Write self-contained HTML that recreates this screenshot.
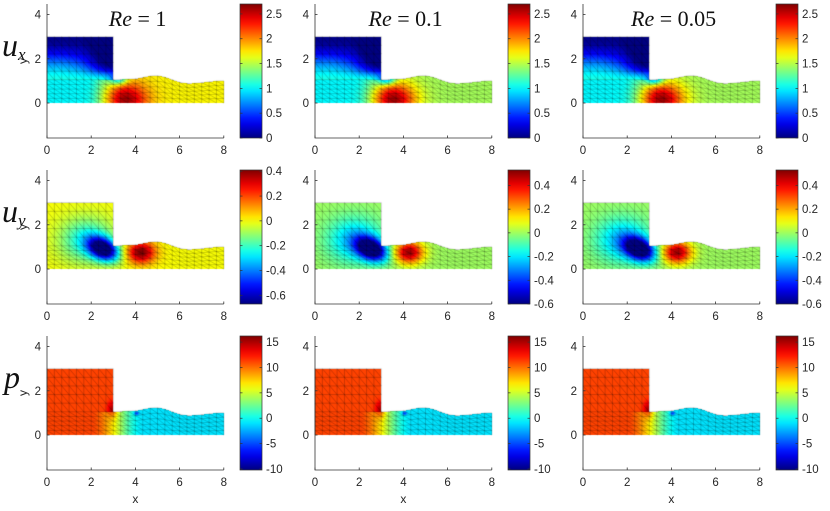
<!DOCTYPE html>
<html><head><meta charset="utf-8">
<style>
body{margin:0;background:#fff;}
#wrap{position:relative;width:830px;height:511px;overflow:hidden;font-family:"Liberation Sans",sans-serif;}
canvas,svg{position:absolute;left:0;top:0;}
</style></head>
<body>
<div id="wrap">
<canvas id="cv" width="830" height="511"></canvas>
<svg id="sv" width="830" height="511"></svg>
</div>
<script>
// ---- data ----
const colTitles = ["1", "0.1", "0.05"];
const rowNames = ["x", "y", "p"];
const xTicks = [0, 2, 4, 6, 8];
const yTicks = [0, 2, 4];
const cbRanges = [
  [[0, 2.7], [0, 2.7], [0, 2.7]],
  [[-0.67, 0.41], [-0.6, 0.53], [-0.6, 0.53]],
  [[-10.2, 16.2], [-10.2, 16.2], [-10.2, 16.2]]
];
const cbTicks = [
  ["0", "0.5", "1", "1.5", "2", "2.5"],
  ["-0.6", "-0.4", "-0.2", "0", "0.2", "0.4"],
  ["-10", "-5", "0", "5", "10", "15"]
];
const topX = [3, 3.8, 4.9, 6.4, 8];
const topY = [1.05, 1.08, 1.23, 0.88, 1.0];
const uxBase = [1.7, 1.45, 1.45];
const uyBase = [0.0, 0.0, 0.0];
const uyRed = [0.42, 0.5, 0.5];

const NS = "http://www.w3.org/2000/svg";
const sv = document.getElementById('sv');
const ctx = document.getElementById('cv').getContext('2d');
function X0(c){return 47+268*c;}
function Y0(r){return 103+166*r;}
const S = 22.1;
function px(c,x){return X0(c)+S*x;}
function py(r,y){return Y0(r)-S*y;}

function jet(t){
  t=Math.max(0,Math.min(1,t));
  const f=(a)=>Math.max(0,Math.min(1,1.5-Math.abs(4*t-a)));
  return [f(3)*255,f(2)*255,f(1)*255];
}
function topAt(x){
  if(x<=3) return 3;
  for(let i=0;i<topX.length-1;i++){
    if(x<=topX[i+1]){const u=(x-topX[i])/(topX[i+1]-topX[i]);const s=(1-Math.cos(Math.PI*u))/2;return topY[i]+(topY[i+1]-topY[i])*s;}
  }
  return topY[topY.length-1];
}
function chTop(x){ if(x<=3) return 1.05; return topAt(x);}
function g(x,y,cx,cy,sx,sy){return Math.exp(-((x-cx)*(x-cx)/(2*sx*sx)+(y-cy)*(y-cy)/(2*sy*sy)));}
function ss(a,b,x){let t=Math.max(0,Math.min(1,(x-a)/(b-a)));return t*t*(3-2*t);}

function field(r,c,x,y){
  if(r===0){
    const b=uxBase[c];
    let v;
    if(x<3 && y>1.05){ v=1.05*(1-ss(1.0,2.9,y))*(1-0.75*ss(0.5,3,x)*ss(0.9,2,y))+0.03; }
    else { v=1.0+(b-1.0)*ss(1.8,3.6,x); }
    if(x<3) v-=0.35*ss(1.0,1.6,y)*ss(1.5,3,x);
    v+=(2.62-b)*g(x,y,3.55,0.15,0.7,0.55);
    v-=0.8*g(x,y,3.25,1.05,0.3,0.18);
    return v;
  } else if(r===1){
    let v=uyBase[c];
    const dx=x-2.55, dy=y-0.9;
    const a=0.45, u=dx*Math.cos(a)-dy*Math.sin(a), w=dx*Math.sin(a)+dy*Math.cos(a);
    v+=-0.72*Math.exp(-(u*u/(2*0.5*0.5)+w*w/(2*0.33*0.33)));
    v+=-0.26*g(x,y,1.8,1.3,0.85,0.7);
    v+=(uyRed[c]-uyBase[c])*g(x,y,4.25,0.75,0.45,0.35);
    return v;
  } else {
    let v=11.2-12.2*ss(2.0,4.4,x);
    if(y>1.05 && x<3) v=11.2;
    v+=4*g(x,y,2.95,1.15,0.15,0.25);
    v-=5*g(x,y,4.05,0.98,0.08,0.06);
    return v;
  }
}

for(let r=0;r<3;r++)for(let c=0;c<3;c++){
  const [lo,hi]=cbRanges[r][c];
  const img=ctx.createImageData(Math.ceil(8*S)+2,Math.ceil(3*S)+2);
  const ox=Math.round(px(c,0)), oy=Math.round(py(r,3));
  for(let j=0;j<img.height;j++)for(let i=0;i<img.width;i++){
    const x=(ox+i+0.5-X0(c))/S, y=(Y0(r)-(oy+j+0.5))/S;
    if(x<0||x>8||y<0) continue;
    if(x<=3 ? y>3 : y>topAt(x)) continue;
    const [R,G,B]=jet((field(r,c,x,y)-lo)/(hi-lo));
    const k=4*(j*img.width+i);
    img.data[k]=R;img.data[k+1]=G;img.data[k+2]=B;img.data[k+3]=255;
  }
  ctx.putImageData(img,ox,oy);
  ctx.strokeStyle='rgba(0,0,0,0.4)';ctx.lineWidth=0.5;
  ctx.beginPath();
  const nx=24;
  for(let i=0;i<=nx;i++){
    const x=8*i/nx;
    ctx.moveTo(px(c,x),py(r,0));ctx.lineTo(px(c,x),py(r,x<=3.001?3:chTop(x)));
  }
  for(let k=1;k<=5;k++){
    ctx.moveTo(px(c,0),py(r,1.05*k/5));
    for(let i=1;i<=80;i++){const x=8*i/80;ctx.lineTo(px(c,x),py(r,chTop(x)*k/5));}
  }
  for(let k=1;k<=5;k++){const y=1.05+1.95*k/5;ctx.moveTo(px(c,0),py(r,y));ctx.lineTo(px(c,3),py(r,y));}
  for(let i=0;i<nx;i++){
    const x1=8*i/nx,x2=8*(i+1)/nx;
    for(let k=0;k<5;k++){
      ctx.moveTo(px(c,x1),py(r,chTop(x1)*(k+1)/5));ctx.lineTo(px(c,x2),py(r,chTop(x2)*k/5));
    }
    if(x2<=3.01){for(let k=0;k<5;k++){const y1=1.05+1.95*(k+1)/5,y2=1.05+1.95*k/5;ctx.moveTo(px(c,x1),py(r,y1));ctx.lineTo(px(c,x2),py(r,y2));}}
  }
  ctx.stroke();
}

function el(tag,attrs,parent){const e=document.createElementNS(NS,tag);for(const k in attrs)e.setAttribute(k,attrs[k]);(parent||sv).appendChild(e);return e;}

const defs=el('defs',{});
const lg=el('linearGradient',{id:'jetg',x1:0,y1:1,x2:0,y2:0},defs);
for(let i=0;i<=20;i++){const [R,G,B]=jet(i/20);el('stop',{offset:i/20,'stop-color':`rgb(${R|0},${G|0},${B|0})`},lg);}

for(let r=0;r<3;r++)for(let c=0;c<3;c++){
  const ax=el('g',{});
  
  
  const yb=138+166*r, yt=4+166*r;
  el('path',{d:`M${px(c,0)},${yt}V${yb}H${px(c,8)}`,stroke:'#333',fill:'none','stroke-width':0.8},ax);
  xTicks.forEach(v=>{
    el('line',{x1:px(c,v),x2:px(c,v),y1:yb,y2:yb-2.5,stroke:'#333','stroke-width':0.8},ax);
    const t=el('text',{x:px(c,v),y:yb+16,'text-anchor':'middle','font-size':11.5,fill:'#262626'},ax);
    t.textContent=v;
    
    
  });
  yTicks.forEach(v=>{
    el('line',{x1:px(c,0),x2:px(c,0)+2.5,y1:py(r,v),y2:py(r,v),stroke:'#333','stroke-width':0.8},ax);
    const t=el('text',{x:px(c,0)-6,y:py(r,v)+4,'text-anchor':'end','font-size':11.5,fill:'#262626'},ax);
    t.textContent=v;
    
    
  });
  if(c===0){
    const t=el('text',{x:0,y:0,transform:`translate(${27},${py(r,1.9)}) rotate(-90)`,'text-anchor':'middle','font-size':12,fill:'#262626'},ax);
    t.textContent='y';
    
    
  }
  if(r===2){
    const t=el('text',{x:px(c,4),y:503,'text-anchor':'middle','font-size':12,fill:'#262626'},ax);
    t.textContent='x';
    
    
  }
  const cb=el('g',{});
  
  
  const cx=240+268*c;
  el('rect',{x:cx,y:yt,width:22,height:yb-yt,fill:'url(#jetg)',stroke:'#333','stroke-width':0.7},cb);
  const [lo,hi]=cbRanges[r][c];
  cbTicks[r].forEach(s=>{
    const v=parseFloat(s);const y=yb-(v-lo)/(hi-lo)*(yb-yt);
    el('line',{x1:cx,x2:cx+2.5,y1:y,y2:y,stroke:'#333','stroke-width':0.7},cb);
    el('line',{x1:cx+22,x2:cx+19.5,y1:y,y2:y,stroke:'#333','stroke-width':0.7},cb);
    const t=el('text',{x:cx+26,y:y+4,'font-size':11.5,fill:'#262626'},cb);
    t.textContent=s;
    
    
  });
}
colTitles.forEach((s,c)=>{
  const t=el('text',{x:px(c,4.1),y:26,'text-anchor':'middle','font-size':22,'font-family':'Liberation Serif, serif',fill:'#111'});
  t.innerHTML='<tspan font-style="italic">Re</tspan> = '+s;
  
  
});
const rl=[[2,56,'u','x'],[2,222,'u','y'],[4,388,'p','']];
rl.forEach((a,i)=>{
  const t=el('text',{x:a[0],y:a[1],'font-size':32,'font-style':'italic','font-family':'Liberation Serif, serif',fill:'#111'});
  t.innerHTML=a[2]+(a[3]?'<tspan font-size="17" dy="4">'+a[3]+'</tspan>':'');
  
  
});
</script>
</body></html>
